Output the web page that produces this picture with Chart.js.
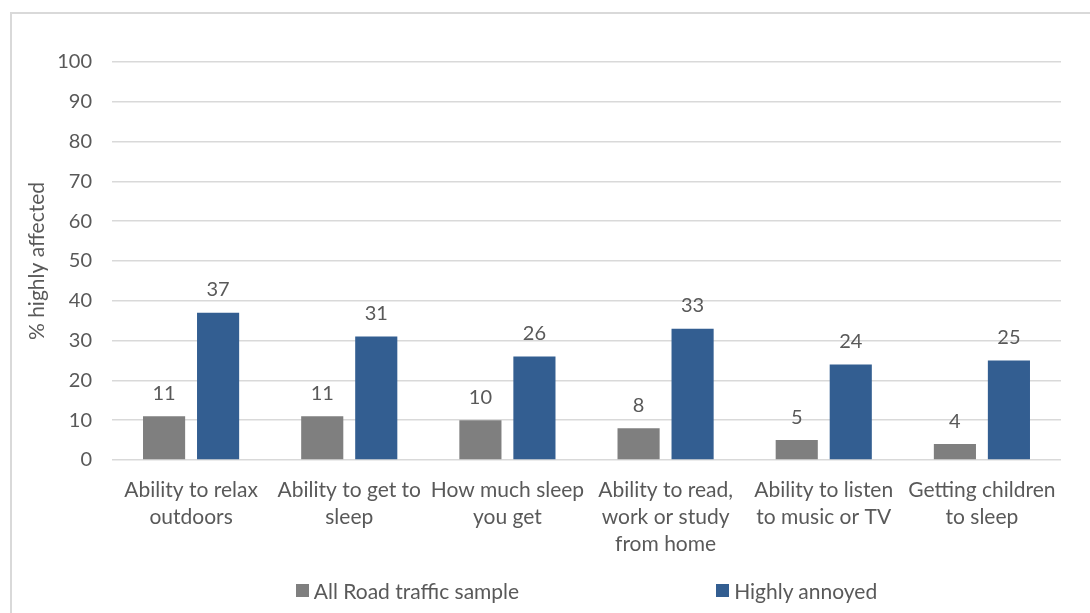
<!DOCTYPE html>
<html>
<head>
<meta charset="utf-8">
<script src="https://cdn.jsdelivr.net/npm/chart.js@4/dist/chart.umd.min.js"></script>
<style>
  html, body { margin: 0; padding: 0; background: #fff; }
  body { width: 1090px; height: 613px; position: relative; overflow: hidden; font-family: Lato, sans-serif; }
  #frame { position: absolute; left: 10px; top: 12px; width: 1100px; height: 620px;
           border-left: 2px solid #d9d9d9; border-top: 2px solid #d9d9d9; box-sizing: border-box; }
  #wrap { position: absolute; left: 0; top: 0; width: 1090px; height: 613px; }
  #legend { position: absolute; display: flex; justify-content: center; align-items: center;
            gap: 197px; font: 21px Lato, sans-serif; color: #595959; height: 24px; }
  .item { display: flex; align-items: center; gap: 5px; white-space: nowrap; }
  .swatch { width: 13px; height: 13px; display: inline-block; }
</style>
</head>
<body>
<div id="frame"></div>
<div id="wrap"><canvas id="c" width="1090" height="613"></canvas></div>
<div id="legend"></div>
<script>
// Categories (multi-line axis labels)
const categories = [
  ['Ability to relax', 'outdoors'],
  ['Ability to get to', 'sleep'],
  ['How much sleep', 'you get'],
  ['Ability to read,', 'work or study', 'from home'],
  ['Ability to listen', 'to music or TV'],
  ['Getting children', 'to sleep']
];
const seriesNames = ['All Road traffic sample', 'Highly annoyed'];
const allRoadTraffic = [11, 11, 10, 8, 5, 4];
const highlyAnnoyed = [37, 31, 26, 33, 24, 25];
const yMin = 0, yMax = 100, yStep = 10;
const yTitle = '% highly affected';

const TEXT = '#595959';
const FONT = 'Lato, sans-serif';

// Draws each bar's value above it
const valueLabels = {
  id: 'valueLabels',
  afterDatasetsDraw(chart) {
    const { ctx } = chart;
    ctx.save();
    ctx.font = '20px ' + FONT;
    ctx.fillStyle = TEXT;
    ctx.textAlign = 'center';
    ctx.textBaseline = 'middle';
    chart.data.datasets.forEach((ds, i) => {
      chart.getDatasetMeta(i).data.forEach((bar, j) => {
        ctx.fillText(String(ds.data[j]), bar.x, bar.y - 23);
      });
    });
    ctx.restore();
  }
};

const chart = new Chart(document.getElementById('c'), {
  type: 'bar',
  data: {
    labels: categories,
    datasets: [
      { label: seriesNames[0], data: allRoadTraffic, backgroundColor: '#7f7f7f' },
      { label: seriesNames[1], data: highlyAnnoyed, backgroundColor: '#335e91' }
    ]
  },
  options: {
    responsive: false,
    animation: false,
    devicePixelRatio: 1,
    categoryPercentage: 0.683,
    barPercentage: 0.78,
    layout: { padding: { left: 12, top: 62, right: 29, bottom: 53 } },
    plugins: {
      legend: { display: false },
      tooltip: { enabled: false }
    },
    scales: {
      x: {
        grid: { display: false, drawTicks: false },
        border: { display: false },
        ticks: { color: TEXT, font: { family: FONT, size: 21, lineHeight: 1.29 }, padding: 17,
                 maxRotation: 0, autoSkip: false },
        afterFit(s) { s.height = 100; }
      },
      y: {
        min: yMin, max: yMax,
        ticks: { stepSize: yStep, color: TEXT, font: { family: FONT, size: 20 }, padding: 20 },
        grid: { color: '#d9d9d9', lineWidth: 1.5, drawTicks: false },
        border: { display: false },
        title: { display: true, text: yTitle, color: TEXT, font: { family: FONT, size: 21 },
                 padding: { top: 13, bottom: 0 } },
        afterFit(s) { s.width = 100; }
      }
    }
  },
  plugins: [valueLabels]
});

// HTML legend generated from the chart's datasets, centred under the plot area
(function buildLegend() {
  const el = document.getElementById('legend');
  const area = chart.chartArea;
  el.style.left = area.left + 'px';
  el.style.width = (area.right - area.left) + 'px';
  el.style.top = '578px';
  chart.options.plugins.legend.labels.generateLabels(chart).forEach(item => {
    const d = document.createElement('div');
    d.className = 'item';
    const sw = document.createElement('span');
    sw.className = 'swatch';
    sw.style.background = item.fillStyle;
    const t = document.createElement('span');
    t.textContent = item.text;
    d.appendChild(sw); d.appendChild(t);
    el.appendChild(d);
  });
})();
</script>
</body>
</html>
